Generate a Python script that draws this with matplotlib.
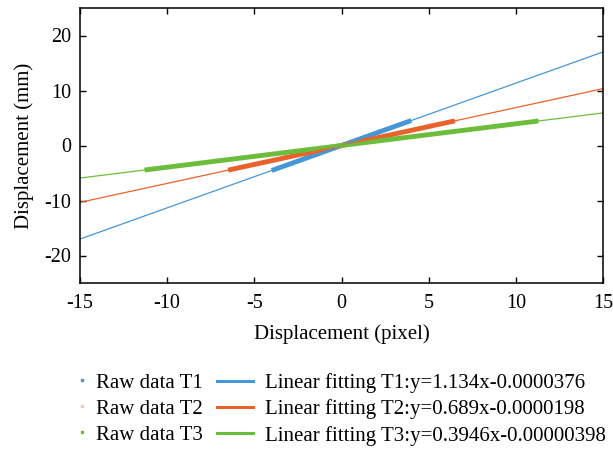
import numpy as np
import matplotlib.pyplot as plt
from matplotlib.lines import Line2D

plt.rcParams['font.family'] = ['Liberation Serif', 'DejaVu Serif']
plt.rcParams['font.size'] = 15
plt.rcParams['axes.unicode_minus'] = False

# fit parameters (slope, intercept)
slopes = [1.134, 0.689, 0.3946]
intercepts = [-0.0000376, -0.0000198, -0.00000398]
fit_x = [-15, 15]

raw_x1 = [-4.0, -2.0, 0.0, 2.0, 4.0]
raw_y1 = [-4.54, -2.27, 0.0, 2.27, 4.54]
raw_x2 = [-6.5, -3.2, 0.0, 3.2, 6.5]
raw_y2 = [-4.48, -2.2, 0.0, 2.2, 4.48]
raw_x3 = [-11.3, -5.6, 0.0, 5.6, 11.3]
raw_y3 = [-4.46, -2.21, 0.0, 2.21, 4.46]

colors = ['#4597d6', '#e8622a', '#6dbd3c']
raw_colors = ['#4597d6', '#f6c8b4', '#6dbd3c']

fig = plt.figure(figsize=(6.13, 4.51), dpi=100)
ax = fig.add_axes([80 / 613, 1 - 283 / 451, 523 / 613, 275 / 451])

raws = [(raw_x1, raw_y1), (raw_x2, raw_y2), (raw_x3, raw_y3)]
for i in range(3):
    rx, ry = raws[i]
    ax.plot(rx, ry, '-', color=colors[i], lw=3.5, solid_capstyle='butt')
for i in range(3):
    fx = np.array(fit_x)
    ax.plot(fx, slopes[i] * fx + intercepts[i], '-', color=colors[i], lw=0.9)

ax.set_xlim(-15, 15)
ax.set_ylim(-25, 25)
ax.set_xticks([-15, -10, -5, 0, 5, 10, 15])
ax.set_yticks([-20, -10, 0, 10, 20])
ax.tick_params(direction='in', top=True, right=True, length=4, width=1,
               labelsize=14.5, pad=6.5)
ax.tick_params(axis='x', pad=7.8)
for s in ax.spines.values():
    s.set_linewidth(1.1)
ax.set_xlabel('Displacement (pixel)', fontsize=15, labelpad=8.5)
ax.set_ylabel('Displacement (mm)', fontsize=15, labelpad=7.5)

labels_raw = ['Raw data T1', 'Raw data T2', 'Raw data T3']
labels_fit = ['Linear fitting T1:y=1.134x-0.0000376',
              'Linear fitting T2:y=0.689x-0.0000198',
              'Linear fitting T3:y=0.3946x-0.00000398']
h_raw = [Line2D([], [], ls='none', marker='s', ms=1.8, color=raw_colors[i]) for i in range(3)]
h_fit = [Line2D([], [], color=colors[i], lw=2.2) for i in range(3)]
leg1 = fig.legend(h_raw, labels_raw, loc='upper left', bbox_to_anchor=(76 / 613, 1 - 373 / 451),
                  frameon=False, fontsize=15, handlelength=0.6, handletextpad=0.37,
                  labelspacing=0.31, borderpad=0, borderaxespad=0)
leg2 = fig.legend(h_fit, labels_fit, loc='upper left', bbox_to_anchor=(217 / 613, 1 - 373 / 451),
                  frameon=False, fontsize=15, handlelength=1.73, handletextpad=0.58,
                  labelspacing=0.31, borderpad=0, borderaxespad=0)

plt.savefig('out.png', dpi=100)
